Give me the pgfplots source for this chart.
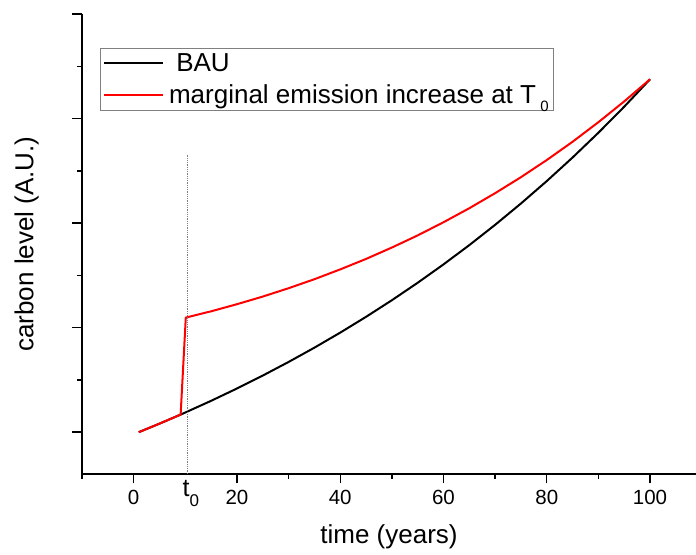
\documentclass[border=0pt]{standalone}
\usepackage{fontspec}
\setmainfont{Liberation Sans}
\usepackage{pgfplots}
\usepackage{pgfplotstable}
\pgfplotsset{compat=1.18}

% business-as-usual carbon level
\pgfplotstableread{
t c
1 0
5 0.0815
9.1 0.1684
10 0.1880
15 0.2999
20 0.4176
25 0.5414
30 0.6715
35 0.8082
40 0.9520
45 1.1031
50 1.2620
55 1.4290
60 1.6047
65 1.7892
70 1.9833
75 2.1873
80 2.4018
85 2.6273
90 2.8643
95 3.1135
100 3.3755
}\bau

% carbon level with an extra pulse of emission at t0
\pgfplotstableread{
t c
1 0
5 0.0815
9.1 0.1684
10.1 1.096
15 1.156
20 1.224
25 1.297
30 1.377
35 1.463
40 1.557
45 1.657
50 1.766
55 1.882
60 2.008
65 2.142
70 2.286
75 2.439
80 2.603
85 2.778
90 2.965
95 3.164
100 3.3755
}\marg

\newcommand{\subz}[2]{\raisebox{#1}{\fontsize{#2}{#2}\selectfont 0}}

\begin{document}
\begin{tikzpicture}
\begin{axis}[
  scale only axis,
  width=614pt, height=460pt,
  xmin=-10, xmax=108.9,
  ymin=-0.4, ymax=4,
  axis x line*=bottom, axis y line*=left,
  x axis line style={-}, y axis line style={-},
  axis line style={line width=1.4pt},
  tick align=outside,
  major tick length=9.5pt, minor tick length=5pt,
  every tick/.style={black, line width=1.4pt},
  xtick={0,20,40,60,80,100},
  minor xtick={-10,30,50,70,90},
  ytick={0,1,2,3,4},
  minor ytick={0.5,1.5,2.5,3.5},
  yticklabels={},
  /pgf/number format/assume math mode=true,
  xticklabel style={font=\fontsize{20.5}{24}\selectfont, yshift=-3pt},
  extra x ticks={10.5},
  extra x tick labels={t\subz{-10pt}{17}},
  extra x tick style={major tick length=0pt,
    xticklabel style={font=\fontsize{25}{30}\selectfont, xshift=3pt}},
  xlabel={time (years)},
  ylabel={carbon level (A.U.)},
  label style={font=\fontsize{26}{31}\selectfont},
  xlabel style={anchor=center, at={(axis description cs:0.5,-0.137)}},
  ylabel style={anchor=center, at={(axis description cs:-0.09,0.5)}},
  legend style={at={(axis description cs:0.0293,0.926)}, anchor=north west,
    draw=gray, line width=1pt, font=\fontsize{26}{31}\selectfont,
    inner xsep=3pt, inner ysep=3pt, row sep=8pt, column sep=3pt},
  legend cell align=left,
  legend image code/.code={\draw[#1, line width=1.6pt] (0pt,0pt) -- (59pt,0pt);},
]
\addplot [black, line width=2pt] table [x=t, y=c] {\bau};
\addlegendentry{\ BAU}
\addplot [red, line width=2pt] table [x=t, y=c] {\marg};
\addlegendentry{marginal emission increase at T\,\subz{-8pt}{15}}
\addplot [gray, line width=0.8pt, densely dotted, forget plot] coordinates {(10.5,-0.4) (10.5,2.66)};
\end{axis}
\pgfresetboundingbox
\path ([xshift=-82pt,yshift=-81pt]current axis.south west) rectangle ([yshift=14pt]current axis.north east);
\end{tikzpicture}
\end{document}
